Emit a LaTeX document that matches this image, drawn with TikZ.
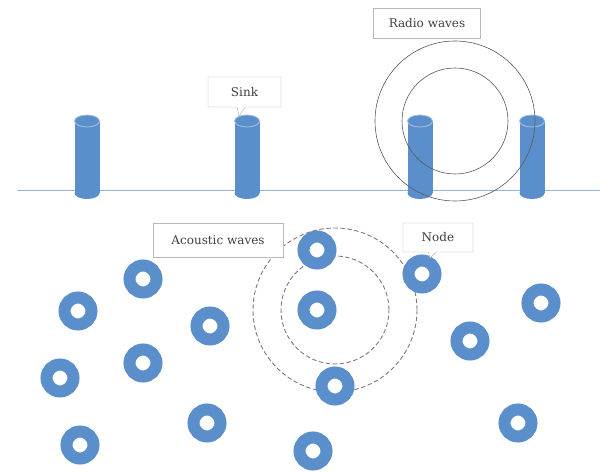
\documentclass[tikz,border=0pt]{standalone}
\usepackage{fontspec}
\setmainfont{DejaVu Serif}
\usetikzlibrary{shapes.callouts}
\definecolor{unitblue}{RGB}{91,143,203}
\definecolor{seabed}{RGB}{150,180,215}
\definecolor{dashwave}{RGB}{140,115,125}
\begin{document}
\begin{tikzpicture}[x=1pt,y=-1pt,
    tag/.style={draw=gray!55, fill=white, text=black!75, font=\fontsize{12}{14}\selectfont,
      inner sep=0pt, minimum height=30pt},
    tagcall/.style={tag, draw=gray!65, rectangle callout, callout pointer width=8pt},
    sensor/.style={circle, draw=unitblue, line width=12pt, fill=white, minimum size=27pt, inner sep=0pt},
    radio/.style={draw=black!65, line width=0.6pt},
    acoustic/.style={draw=dashwave, line width=0.9pt, dash pattern=on 4.5pt off 2.5pt}]
    \useasboundingbox (0,0) rectangle (603,473);
    % Water surface
    \coordinate (wl) at (17,191);
    \coordinate (wr) at (600,191);
    \draw[seabed, line width=1pt] (wl) -- (wr);
    % Buoys / sinks on the surface
    \foreach \px in {87,247,420,532} {
        \fill[unitblue] (\px-12.5,121) rectangle (\px+12.5,193);
        \fill[unitblue] (\px,193) ellipse [x radius=12.5pt, y radius=6pt];
        \draw[unitblue!55!white, fill=unitblue, line width=0.8pt] (\px,121) ellipse [x radius=12.5pt, y radius=6pt];
    }
    % Radio waves
    \coordinate (rc) at (455,121);
    \draw[radio] (rc) circle [radius=80pt];
    \draw[radio] (rc) circle [radius=53pt];
    % Acoustic waves
    \coordinate (ac) at (335,310);
    \draw[acoustic] (ac) circle [radius=82pt];
    \draw[acoustic] (ac) circle [radius=54pt];
    % Underwater sensor nodes
    \foreach \nx/\ny [count=\k] in {143/279, 78/311, 210/326, 143/363, 60/378, 207/423, 80/445,
        317/250, 317/310, 335/386, 313/451, 422/274, 541/303, 470/341, 518/423} {
        \node[sensor] (n\k) at (\nx,\ny) {};
    }
    % Labels
    \coordinate (sinktop) at (239,116);
    \coordinate (nodetop) at (430,258);
    \node[tag, minimum width=107pt] (radiolbl) at (427,23) {Radio waves};
    \node[tag, minimum width=130pt, minimum height=34pt] (acoulbl) at (218,240) {Acoustic waves};
    \node[tagcall, minimum width=73pt, callout absolute pointer={(sinktop)}] (sinklbl) at (244.5,92) {Sink};
    \node[tagcall, minimum width=70pt, minimum height=29pt, callout absolute pointer={(nodetop)}] (nodelbl) at (438,237.5) {Node};
\end{tikzpicture}
\end{document}
